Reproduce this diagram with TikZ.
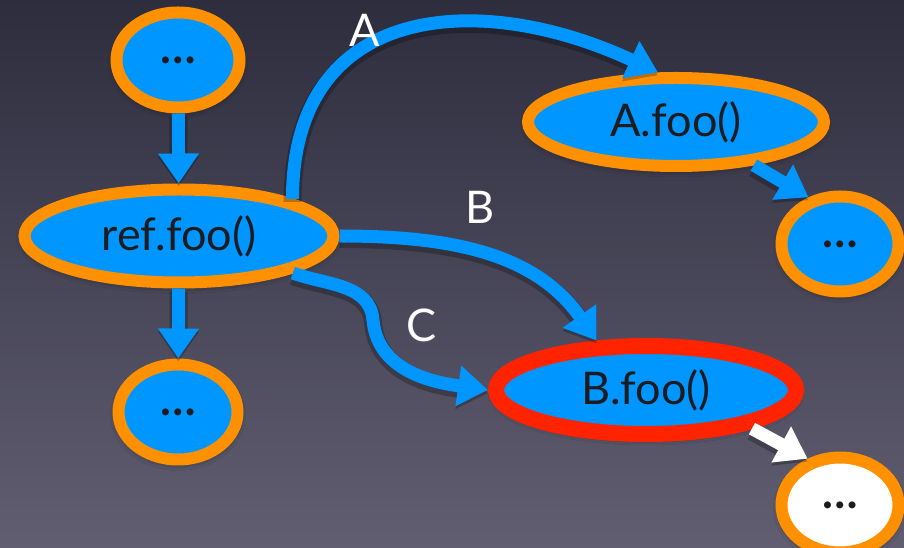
\documentclass[tikz,border=0pt]{standalone}
\usepackage{fontspec}
\setmainfont{Lato}
\usetikzlibrary{arrows.meta,shapes.geometric,shadows.blur}

\definecolor{callblue}{RGB}{0,150,255}
\definecolor{frameorange}{RGB}{255,145,0}
\definecolor{hotred}{RGB}{255,35,0}
\definecolor{bgtop}{RGB}{46,45,62}
\definecolor{bgbottom}{RGB}{96,94,112}
\definecolor{inkdark}{RGB}{28,28,32}

\begin{document}
\begin{tikzpicture}[x=1pt,y=1pt,>={Triangle[length=30pt,width=39pt]},
    call/.style={ellipse,draw=frameorange,fill=callblue,line width=12pt,
        inner sep=0pt,text=inkdark,font=\fontsize{45}{48}\selectfont,
        blur shadow={shadow xshift=0pt,shadow yshift=-3pt,
            shadow blur radius=8pt,shadow opacity=60}},
    dots/.style={call,font=\fontsize{46}{48}\selectfont\bfseries},
    flow/.style={draw=callblue,line width=13pt,
        preaction={draw=black,opacity=0.25,line width=18pt,
            transform canvas={yshift=-3pt}}},
    tag/.style={text=white,font=\fontsize{45}{48}\selectfont}]
\fill[top color=bgtop,bottom color=bgbottom] (0,0) rectangle (904,548);
\useasboundingbox (0,0) rectangle (904,548);

% calls
\node[dots,minimum width=123pt,minimum height=95pt] (top) at (178,488) {…};
\node[call,minimum width=309pt,minimum height=93pt] (ref) at (179,312) {ref.foo()};
\node[dots,minimum width=119pt,minimum height=95pt] (low) at (178,136) {…};
\node[call,minimum width=296pt,minimum height=88pt] (afoo) at (676,426) {A.foo()};
\node[dots,minimum width=117pt,minimum height=95pt] (anext) at (840,304) {…};
\node[call,draw=hotred,line width=16pt,minimum width=300pt,minimum height=88pt] (bfoo) at (646,158) {B.foo()};
\node[dots,fill=white,minimum width=117pt,minimum height=95pt] (bnext) at (840,43) {…};

% dispatch edges
\draw[flow,->] (top) -- (ref);
\draw[flow,->] (ref) -- (low);
\draw[flow,->] (ref.north east) to[out=90,in=155,looseness=1.3] (afoo.110);
\draw[flow,->] (ref.east) to[out=0,in=125] (bfoo.135);
\coordinate (dip) at (373,228);
\draw[flow,->] (ref.-18) to[out=-20,in=95] (dip) to[out=-85,in=172] (bfoo.west);
\draw[flow,->] (afoo.-29) -- (anext.124);
\draw[flow,draw=white,->] (bfoo.-20) -- (bnext.125);

\node[tag] (la) at (365,518) {A};
\node[tag] (lb) at (480,341) {B};
\node[tag] (lc) at (422,223) {C};
\end{tikzpicture}
\end{document}
